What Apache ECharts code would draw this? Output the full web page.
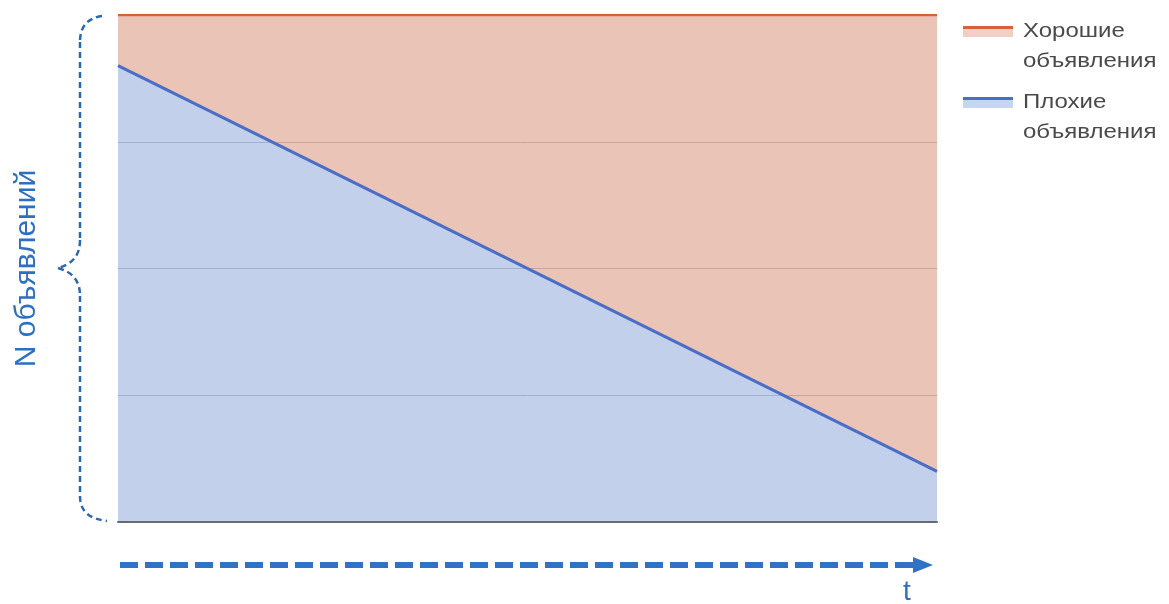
<!DOCTYPE html>
<html>
<head>
<meta charset="utf-8">
<script src="https://cdn.jsdelivr.net/npm/echarts@6/dist/echarts.min.js"></script>
<style>
  html, body { margin: 0; padding: 0; background: #ffffff; }
  #chart { width: 1169px; height: 604px; }
</style>
</head>
<body>
<div id="chart"></div>
<script>
// Time points along the horizontal axis (start and end of the period)
const periods = ['начало', 'конец'];
// Number of ads of each kind (share of the total, stacked to 100)
const badAds = [90, 10];
const goodAds = [10, 90];
// Series names as shown in the legend
const seriesNames = ['Хорошие объявления', 'Плохие объявления'];
const legendLabels = ['Хорошие\nобъявления', 'Плохие\nобъявления'];
const axisTitleY = 'N объявлений';
const axisTitleX = 't';

const RED_LINE = '#d8603f';
const RED_AREA = 'rgba(198,86,52,0.35)';
const BLUE_LINE = '#4a6dc6';
const BLUE_AREA = 'rgba(83,121,198,0.35)';
const ACCENT = '#2f6fbf';
const FONT = '"Liberation Sans", Arial, Helvetica, sans-serif';

const chart = echarts.init(document.getElementById('chart'));

// Legend entry on the right: colour swatch (line + fill) and a two-line caption
function legendEntry(top, lineColor, areaColor, label) {
  return [
    { type: 'rect', shape: { x: 963, y: top, width: 50, height: 3 }, style: { fill: lineColor } },
    { type: 'rect', shape: { x: 963, y: top + 3, width: 50, height: 8 }, style: { fill: areaColor } },
    {
      type: 'text',
      x: 1023, y: top - 10,
      scaleX: 1.2,
      style: {
        text: label,
        font: '20px ' + FONT,
        fill: '#4a4a4a',
        lineHeight: 30.5,
        verticalAlign: 'top'
      }
    }
  ];
}

// Dashed curly brace spanning the vertical extent of the chart
const braceStyle = { fill: null, stroke: '#2e66b0', lineWidth: 2.5, lineDash: [6, 4] };
const brace = [
  { type: 'bezierCurve', shape: { x1: 102, y1: 16, cpx1: 88, cpy1: 18, cpx2: 80, cpy2: 26, x2: 80, y2: 42 }, style: braceStyle },
  { type: 'line', shape: { x1: 80, y1: 42, x2: 80, y2: 240 }, style: braceStyle },
  { type: 'bezierCurve', shape: { x1: 80, y1: 240, cpx1: 80, cpy1: 256, cpx2: 72, cpy2: 264, x2: 58, y2: 268 }, style: braceStyle },
  { type: 'bezierCurve', shape: { x1: 58, y1: 268, cpx1: 72, cpy1: 272, cpx2: 80, cpy2: 280, x2: 80, y2: 296 }, style: braceStyle },
  { type: 'line', shape: { x1: 80, y1: 296, x2: 80, y2: 496 }, style: braceStyle },
  { type: 'bezierCurve', shape: { x1: 80, y1: 496, cpx1: 80, cpy1: 512, cpx2: 90, cpy2: 519, x2: 107, y2: 521 }, style: braceStyle }
];

const option = {
  animation: false,
  backgroundColor: '#ffffff',
  grid: { left: 118, right: 232, top: 15, bottom: 82 },
  xAxis: {
    type: 'category',
    data: periods,
    boundaryGap: false,
    axisLine: { show: true, lineStyle: { color: '#676b74', width: 2 } },
    axisTick: { show: false },
    axisLabel: { show: false },
    splitLine: { show: false },
    z: 10
  },
  yAxis: {
    type: 'value',
    min: 0,
    max: 100,
    interval: 25,
    axisLine: { show: false },
    axisTick: { show: false },
    axisLabel: { show: false },
    splitLine: { show: true, lineStyle: { color: '#cfcfcf', width: 1 } },
    name: axisTitleY,
    nameLocation: 'middle',
    nameGap: 76,
    nameRotate: 90,
    nameTextStyle: { color: ACCENT, fontSize: 30, fontFamily: FONT }
  },
  series: [
    {
      name: seriesNames[1],
      type: 'line',
      stack: 'ads',
      data: badAds,
      symbol: 'none',
      lineStyle: { color: BLUE_LINE, width: 3 },
      itemStyle: { color: BLUE_LINE },
      areaStyle: { color: BLUE_AREA, opacity: 1 },
      z: 3
    },
    {
      name: seriesNames[0],
      type: 'line',
      stack: 'ads',
      data: goodAds,
      symbol: 'none',
      lineStyle: { color: RED_LINE, width: 2.5 },
      itemStyle: { color: RED_LINE },
      areaStyle: { color: RED_AREA, opacity: 1 },
      z: 2
    }
  ],
  graphic: [].concat(
    legendEntry(26, RED_LINE, '#f0cfc4', legendLabels[0]),
    legendEntry(97, BLUE_LINE, '#c8d5f0', legendLabels[1]),
    brace,
    [
      // Dashed time arrow under the chart
      {
        type: 'line',
        shape: { x1: 120, y1: 565, x2: 915, y2: 565 },
        style: { stroke: '#2f72c6', lineWidth: 6, lineDash: [18, 7] }
      },
      {
        type: 'polygon',
        shape: { points: [[913, 557], [933, 565], [913, 573]] },
        style: { fill: '#2f72c6' }
      },
      {
        type: 'text',
        x: 907, y: 592,
        style: {
          text: axisTitleX,
          font: '28px ' + FONT,
          fill: ACCENT,
          align: 'center',
          verticalAlign: 'middle'
        }
      }
    ]
  )
};

chart.setOption(option);
</script>
</body>
</html>
